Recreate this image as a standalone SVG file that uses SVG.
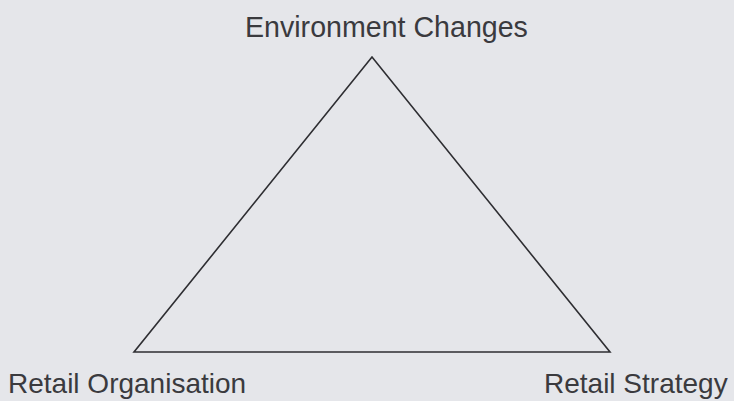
<svg xmlns="http://www.w3.org/2000/svg" width="734" height="401" viewBox="0 0 734 401">
<style>
.lbl{font-family:"Liberation Sans",Arial,sans-serif;font-size:28px;fill:#3a3a3e}
.edge{fill:none;stroke:#2e2e32;stroke-width:1.6;stroke-linejoin:miter}
</style>
<rect width="734" height="401" fill="#e5e6ea"/>
<g id="connectors">
<polygon class="edge" points="372,57 134,352 610,352"/>
</g>
<g id="environment"><text class="lbl" x="245" y="37" style="font-size:28.6px">Environment Changes</text></g>
<g id="organisation"><text class="lbl" x="8" y="393">Retail Organisation</text></g>
<g id="strategy"><text class="lbl" x="544" y="393">Retail Strategy</text></g>
</svg>
